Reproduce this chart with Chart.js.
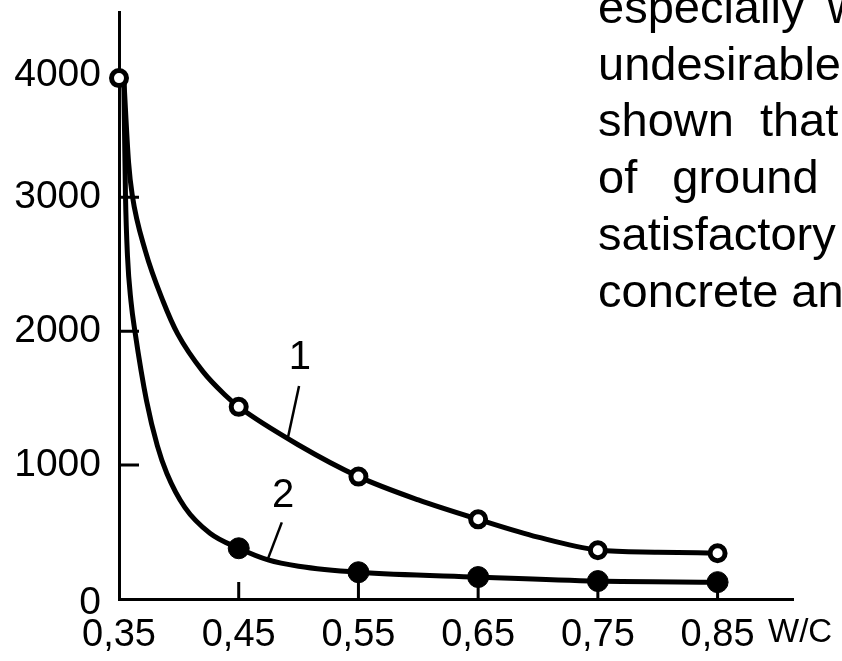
<!DOCTYPE html>
<html>
<head>
<meta charset="utf-8">
<script src="https://cdn.jsdelivr.net/npm/chart.js@4.4.1/dist/chart.umd.min.js"></script>
<style>
  body { margin: 0; background: #fff; overflow: hidden; }
  #wrap { position: relative; width: 842px; height: 661px; overflow: hidden;
          font-family: "Liberation Sans", Arial, sans-serif; color: #000; }
  #chart { position: absolute; left: 0; top: 0; }
  #text { position: absolute; left: 598px; top: -21px; font-size: 47px;
          line-height: 56.7px; white-space: pre; }
  #wc { position: absolute; left: 768px; top: 614px; font-size: 33px; line-height: 33px; }
</style>
</head>
<body>
<div id="wrap">
  <canvas id="chart" width="842" height="661"></canvas>
  <div id="text"><div style="word-spacing:10px">especially with</div><div>undesirable</div><div style="word-spacing:13px">shown that</div><div style="word-spacing:22px">of ground</div><div>satisfactory</div><div>concrete and</div></div>
  <div id="wc">W/C</div>
</div>
<script>
// valeurs
const wc = [0.35, 0.45, 0.55, 0.65, 0.75, 0.85];
const points1 = [3890, 1435, 914, 595, 364, 342];
const wc2 = [0.45, 0.55, 0.65, 0.75, 0.85];
const points2 = [379, 200, 164, 134, 126];

// tracé des courbes (points relevés le long du trait)
const curve1X = [0.354, 0.358, 0.361, 0.372, 0.387, 0.399, 0.42, 0.439, 0.45, 0.50, 0.55, 0.60, 0.65, 0.70, 0.75, 0.80, 0.85];
const curve1Y = [3890, 3260, 3020, 2600, 2220, 1980, 1700, 1520, 1435, 1150, 914, 740, 595, 462, 366, 350, 342];
const curve2X = [0.354, 0.3554, 0.3571, 0.36, 0.3634, 0.373, 0.382, 0.39, 0.405, 0.426, 0.45, 0.4745, 0.50, 0.55, 0.65, 0.75, 0.85];
const curve2Y = [3890, 3019, 2558, 2223, 1993, 1480, 1145, 937, 684, 491, 379, 292, 245, 200, 164, 134, 126];

const xTicks = [0.35, 0.45, 0.55, 0.65, 0.75, 0.85];
const yTicks = [0, 1000, 2000, 3000, 4000];
const curveNames = ['1', '2'];

const toXY = (xs, ys) => xs.map((x, i) => ({ x: x, y: ys[i] }));

// étiquettes 1 / 2 avec leur trait de rappel (coordonnées des données)
const callouts = [
  { text: curveNames[0], at: [0.501, 1800], lead: [[0.5004, 1590], [0.491, 1200]] },
  { text: curveNames[1], at: [0.487, 773], lead: [[0.486, 572], [0.474, 290]] }
];

const font = '"Liberation Sans", Arial, sans-serif';

const decor = {
  id: 'decor',
  beforeDatasetsDraw(chart) {
    const ctx = chart.ctx;
    const xs = chart.scales.x, ys = chart.scales.y;
    ctx.save();
    ctx.strokeStyle = '#000';
    ctx.lineWidth = 3;
    ctx.beginPath();
    yTicks.forEach(v => {
      if (v === 0 || v === 4000) return;
      const y = ys.getPixelForValue(v);
      ctx.moveTo(xs.left, y);
      ctx.lineTo(xs.left + 20, y);
    });
    xTicks.forEach(v => {
      if (v === xTicks[0]) return;
      const x = xs.getPixelForValue(v);
      ctx.moveTo(x, ys.bottom);
      ctx.lineTo(x, ys.bottom - 17);
    });
    ctx.stroke();

    // graduations de l'axe vertical (le 4000 est un peu plus bas sur l'original)
    ctx.fillStyle = '#000';
    ctx.font = '39px ' + font;
    ctx.textAlign = 'right';
    ctx.textBaseline = 'middle';
    yTicks.forEach(v => {
      const shift = v === 4000 ? 12 : (v === 0 ? 4 : 0);
      ctx.fillText(String(v), xs.left - 18, ys.getPixelForValue(v) + shift);
    });
    ctx.restore();
  },
  afterDatasetsDraw(chart) {
    const ctx = chart.ctx;
    const xs = chart.scales.x, ys = chart.scales.y;
    ctx.save();
    ctx.fillStyle = '#000';
    ctx.strokeStyle = '#000';
    ctx.lineWidth = 2.5;
    ctx.font = '40px ' + font;
    ctx.textAlign = 'center';
    ctx.textBaseline = 'middle';
    callouts.forEach(c => {
      ctx.fillText(c.text, xs.getPixelForValue(c.at[0]), ys.getPixelForValue(c.at[1]));
      ctx.beginPath();
      ctx.moveTo(xs.getPixelForValue(c.lead[0][0]), ys.getPixelForValue(c.lead[0][1]));
      ctx.lineTo(xs.getPixelForValue(c.lead[1][0]), ys.getPixelForValue(c.lead[1][1]));
      ctx.stroke();
    });
    ctx.restore();
  }
};

new Chart(document.getElementById('chart'), {
  type: 'line',
  data: {
    datasets: [
      {
        label: '1 points',
        data: toXY(wc, points1),
        showLine: false,
        pointRadius: 7.5,
        pointBorderWidth: 5,
        pointBackgroundColor: '#fff',
        pointBorderColor: '#000',
        clip: false
      },
      {
        label: '2 points',
        data: toXY(wc2, points2),
        showLine: false,
        pointRadius: 10.5,
        pointBorderWidth: 1,
        pointBackgroundColor: '#000',
        pointBorderColor: '#000',
        clip: false
      },
      {
        label: '1',
        data: toXY(curve1X, curve1Y),
        borderColor: '#000',
        borderWidth: 5,
        pointRadius: 0,
        cubicInterpolationMode: 'monotone',
        clip: false
      },
      {
        label: '2',
        data: toXY(curve2X, curve2Y),
        borderColor: '#000',
        borderWidth: 5,
        pointRadius: 0,
        cubicInterpolationMode: 'monotone',
        clip: false
      }
    ]
  },
  options: {
    responsive: false,
    animation: false,
    devicePixelRatio: 1,
    layout: { padding: { top: 10, right: 49, left: 0, bottom: 0 } },
    plugins: { legend: { display: false }, tooltip: { enabled: false } },
    scales: {
      x: {
        type: 'linear',
        min: 0.35,
        max: 0.913,
        afterFit: s => { s.height = 62; s.paddingLeft = 0; s.paddingRight = 0; },
        afterBuildTicks: s => { s.ticks = xTicks.map(v => ({ value: v })); },
        grid: { display: false, drawTicks: false },
        border: { display: true, color: '#000', width: 3 },
        ticks: {
          color: '#000',
          padding: 14,
          maxRotation: 0,
          autoSkip: false,
          font: { family: font, size: 38 },
          callback: v => v.toFixed(2).replace('.', ',')
        }
      },
      y: {
        min: 0,
        max: 4380,
        afterFit: s => { s.width = 119; s.paddingTop = 0; s.paddingBottom = 0; },
        afterBuildTicks: s => { s.ticks = yTicks.map(v => ({ value: v })); },
        grid: { display: false, drawTicks: false },
        border: { display: true, color: '#000', width: 3 },
        ticks: { display: false }
      }
    }
  },
  plugins: [decor]
});
</script>
</body>
</html>
